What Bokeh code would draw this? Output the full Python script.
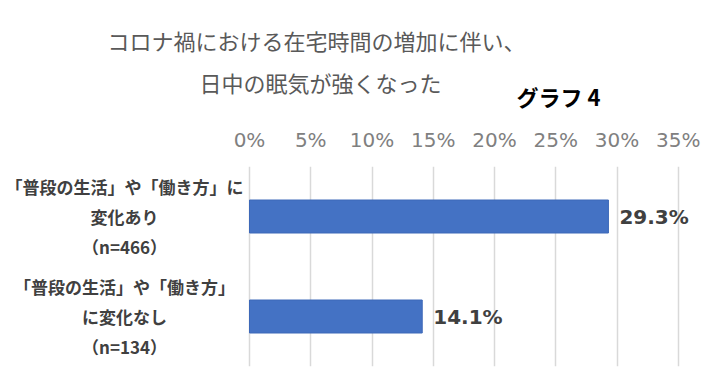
from bokeh.plotting import figure
from bokeh.layouts import column
from bokeh.models import Range1d, FixedTicker, ColumnDataSource
from bokeh.core.properties import value
from bokeh.embed import file_html
from bokeh.resources import INLINE

# ---- data ----
title_lines = ["コロナ禍における在宅時間の増加に伴い、", "日中の眠気が強くなった"]
graph_tag = "グラフ 4"
categories = [
    "「普段の生活」や「働き方」に\n変化あり\n（n=466）",
    "「普段の生活」や「働き方」\nに変化なし\n（n=134）",
]
values = [29.3, 14.1]
value_labels = ["29.3%", "14.1%"]
tick_values = [0, 5, 10, 15, 20, 25, 30, 35]
tick_labels = ["0%", "5%", "10%", "15%", "20%", "25%", "30%", "35%"]

CJK = "Noto Sans CJK JP"
DARK = "#404040"
W = 720
TOP_H = 120
PX_PER_PCT = 12.25
ZERO_X = 249

n = len(categories)
ys = [n - i - 0.5 for i in range(n)]

# ---- title strip ----
t = figure(output_backend="svg", toolbar_location=None, width=W, height=TOP_H,
           x_range=Range1d(0, W), y_range=Range1d(TOP_H, 0),
           x_axis_location=None, y_axis_location=None,
           min_border=0, min_border_left=0, min_border_right=0,
           min_border_top=0, min_border_bottom=0)
t.outline_line_color = None
t.grid.visible = False
tsrc = ColumnDataSource(dict(x=[316, 320], y=[39, 81], text=title_lines))
t.text(x="x", y="y", text="text", source=tsrc, text_align="center",
       text_baseline="middle", text_font=value(CJK), text_font_size="22px",
       text_color="#595959")
t.text(x=[558], y=[95], text=[graph_tag], text_align="center",
       text_baseline="middle", text_font=value(CJK), text_font_style=value("bold"),
       text_font_size="22px", text_color="#000000")

# ---- main chart ----
p = figure(
    output_backend="svg", toolbar_location=None,
    x_range=Range1d(-ZERO_X / PX_PER_PCT, (W - ZERO_X) / PX_PER_PCT),
    y_range=Range1d(0, n),
    width=W, height=267, frame_width=W, frame_height=200,
    min_border_left=0, min_border_right=0,
    min_border_top=46, min_border_bottom=21,
    x_axis_location="above", y_axis_location=None,
)
p.outline_line_color = None
p.ygrid.visible = False
ax = p.xaxis[0]
ax.ticker = FixedTicker(ticks=tick_values)
ax.major_label_overrides = {tv: tl for tv, tl in zip(tick_values, tick_labels)}
ax.axis_line_color = None
ax.major_tick_line_color = None
ax.minor_tick_line_color = None
ax.major_label_text_font = "DejaVu Sans"
ax.major_label_text_font_size = "20px"
ax.major_label_text_color = "#808080"
ax.major_label_standoff = 9
p.xgrid.ticker = FixedTicker(ticks=tick_values)
p.xgrid.grid_line_color = "#d9d9d9"
p.xgrid.grid_line_width = 1.5

src = ColumnDataSource(dict(y=ys, v=values, lab=value_labels))
p.hbar(y="y", left=0, right="v", height=0.33, source=src,
       fill_color="#4472C4", line_color="#3d68b8", line_width=1)
p.text(x="v", y="y", text="lab", source=src, x_offset=11,
       text_baseline="middle", text_align="left",
       text_font=value("DejaVu Sans"), text_font_style=value("bold"),
       text_font_size="20px", text_color=DARK)

# category labels: multi-line, centred left of the bars
cx, cy, ct = [], [], []
for yv, cat in zip(ys, categories):
    lines = cat.split("\n")
    m = len(lines)
    for j, line in enumerate(lines):
        cx.append(-10.2)
        cy.append(yv + ((m - 1) / 2 - j) * 0.30)
        ct.append(line)
csrc = ColumnDataSource(dict(x=cx, y=cy, text=ct))
p.text(x="x", y="y", text="text", source=csrc, text_align="center",
       text_baseline="middle", text_font=value(CJK), text_font_style=value("bold"),
       text_font_size="17px", text_color=DARK)

layout = column(t, p, spacing=0)
open("out.html", "w").write(file_html(layout, INLINE))
